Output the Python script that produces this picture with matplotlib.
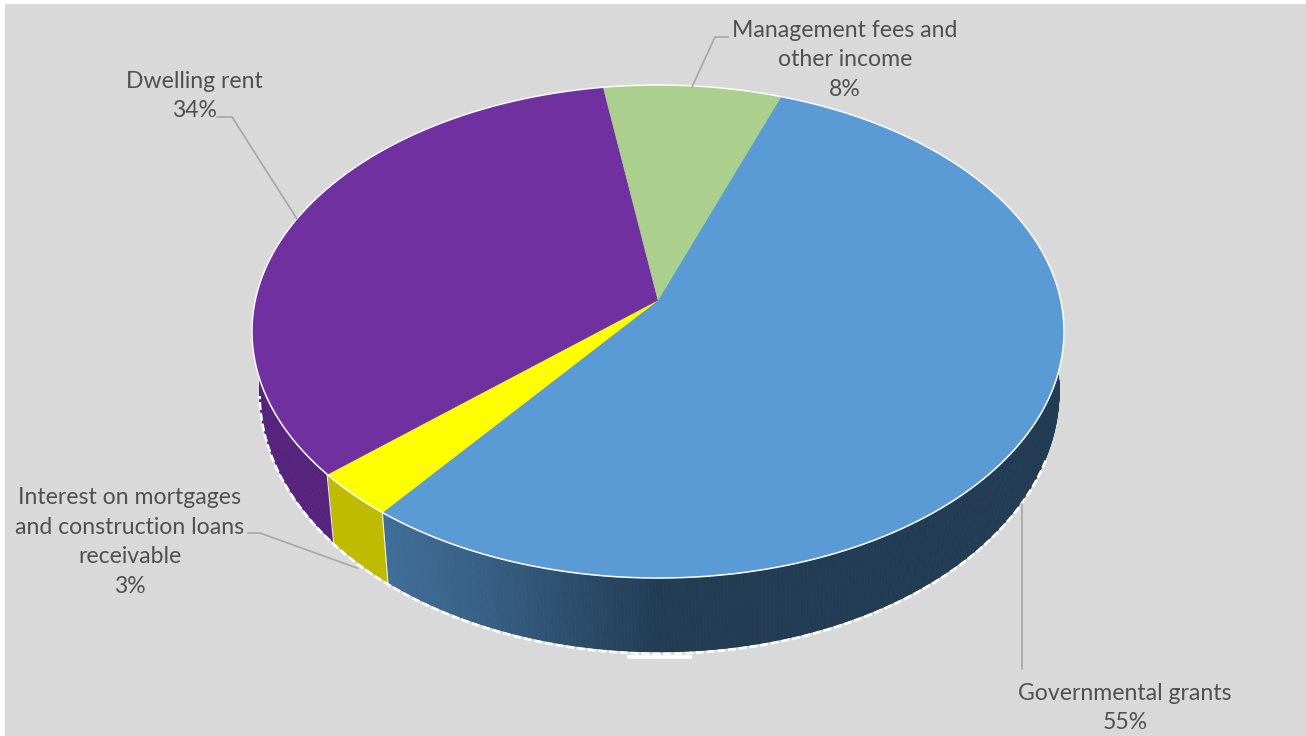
import numpy as np
import matplotlib
matplotlib.use('Agg')
import matplotlib.pyplot as plt
from matplotlib.collections import PolyCollection
from matplotlib.patches import Polygon, Rectangle

plt.rcParams['font.family'] = ['Lato', 'DejaVu Sans']

# revenue shares, clockwise from the start angle
categories = ['Governmental grants', 'Interest on mortgages\nand construction loans\nreceivable',
              'Dwelling rent', 'Management fees and\nother income']
shares = [55, 3, 34, 8]

top_colors = ['#5b9bd5', '#ffff00', '#7030a0', '#abd08e']
wall_colors = ['#223c54', '#bfbb00', '#56247d', '#6f8a5c']

START_ANGLE = 20.0
APEX_X, APEX_Y = 658.0, 300.0
RADIUS_X, RADIUS_Y = 402.7, 242.5
TILT = 0.1278
TEXT_COLOR = '#505050'
LEADER_COLOR = '#a6a6a6'


def rim_top(theta):
    # perspective view of a circle, theta in degrees clockwise from 12 o'clock
    t = np.radians(theta)
    x, y = np.sin(t), np.cos(t)
    w = 1 + TILT * y
    return APEX_X + RADIUS_X * x / w, APEX_Y - RADIUS_Y * y / w


def rim_bottom(theta):
    x, y = rim_top(theta)
    return 659.5 + 0.985 * (x - 658), 392 + 1.058 * (y - 332)


def blue_shade(x):
    r = np.interp(x, [385, 480, 660], [0x40, 0x38, 0x22])
    g = np.interp(x, [385, 480, 660], [0x6e, 0x60, 0x3c])
    b = np.interp(x, [385, 480, 660], [0x98, 0x86, 0x54])
    return np.column_stack([r, g, b]) / 255


fig = plt.figure(figsize=(13.06, 7.36), dpi=100, facecolor='white')
ax = fig.add_axes([0, 0, 1, 1])
ax.set_xlim(0, 1306)
ax.set_ylim(736, 0)
ax.axis('off')
ax.add_patch(Rectangle((5, 4), 1301, 732, color='#d9d9d9', lw=0, zorder=0))

angles = START_ANGLE + np.concatenate([[0], np.cumsum(shares)]) * 3.6

# the walls stop at the outline of the lower disc
xc, yc = rim_bottom(np.linspace(0, 360, 720))
wall_clip = Polygon(np.column_stack([xc, yc]), closed=True, transform=ax.transData)

# side walls first, the top faces go over them
for i in range(len(shares)):
    th = np.linspace(angles[i], angles[i + 1], int(shares[i] * 8) + 2)
    xt, yt = rim_top(th)
    xb, yb = rim_bottom(th)
    quads = [[(xt[j], yt[j]), (xt[j + 1], yt[j + 1]), (xb[j + 1], yb[j + 1]), (xb[j], yb[j])]
             for j in range(len(th) - 1)]
    if i == 0:
        cols = blue_shade(xt[:-1])
    else:
        cols = wall_colors[i]
    walls = PolyCollection(quads, facecolors=cols, edgecolors=cols, linewidths=0.6, zorder=2)
    ax.add_collection(walls)
    walls.set_clip_path(wall_clip)

# seams between the walls
for a in angles[1:3]:
    xt, yt = rim_top(a)
    xb, yb = rim_bottom(a)
    ax.plot([xt, xb], [yt, yb], color='#eeeeee', lw=0.8, zorder=3)

# broken white line along the lower rim
th = np.linspace(112, 262, 500)
xb, yb = rim_bottom(th)
ax.plot(xb, yb + 1.5, color='white', lw=1.9, ls=(0, (3, 1.1)), zorder=3)
ax.plot([627, 692], [657, 657], color='white', lw=2.6, zorder=3, solid_capstyle='butt')

for i in range(len(shares)):
    th = np.linspace(angles[i], angles[i + 1], int(shares[i] * 8) + 2)
    xt, yt = rim_top(th)
    pts = np.column_stack([np.r_[APEX_X, xt], np.r_[APEX_Y, yt]])
    ax.add_patch(Polygon(pts, closed=True, facecolor=top_colors[i], edgecolor=top_colors[i], lw=0.5, zorder=4))
    ax.plot(xt, yt, color='white', lw=1.1, zorder=5, solid_capstyle='butt')

# leader lines
leaders = [
    ([1022, 1022], [504, 669]),
    ([248, 260, 357], [533, 533, 568]),
    ([297, 232, 217], [219, 117, 117]),
    ([692, 715, 728], [87, 37, 37]),
]
for lx, ly in leaders:
    ax.plot(lx, ly, color=LEADER_COLOR, lw=1.2, zorder=6)

# labels
label_pos = [(1125, 708), (130, 542), (194, 96), (845, 60)]
for name, val, (px, py) in zip(categories, shares, label_pos):
    ax.text(px, py, f'{name}\n{val}%', ha='center', va='center', fontsize=16.6,
            color=TEXT_COLOR, linespacing=1.5, zorder=7)

fig.savefig('out.png', dpi=100)
